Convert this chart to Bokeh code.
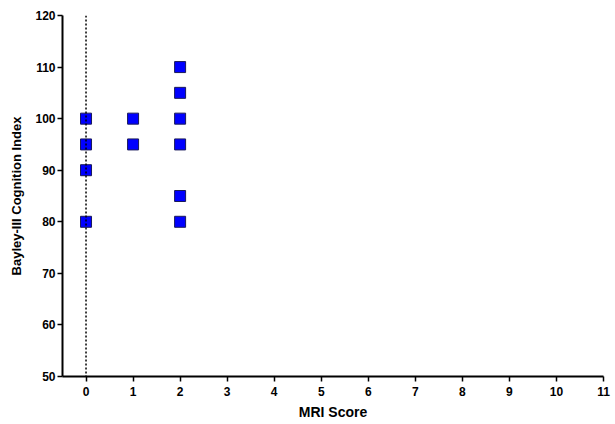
from bokeh.plotting import figure
from bokeh.models import ColumnDataSource, FixedTicker, Span
from bokeh.embed import file_html
from bokeh.resources import INLINE

# Data
mri_score = [0, 0, 0, 0, 1, 1, 2, 2, 2, 2, 2, 2]
bayley_cognition = [100, 95, 90, 80, 100, 95, 110, 105, 100, 95, 85, 80]
x_ticks = list(range(0, 12))
y_ticks = list(range(50, 121, 10))

src = ColumnDataSource(data=dict(x=mri_score, y=bayley_cognition))

p = figure(
    output_backend="svg", toolbar_location=None,
    frame_width=541, frame_height=361,
    x_range=(-0.5, 11), y_range=(50, 120),
    min_border_left=62, min_border_right=10, min_border_top=15, min_border_bottom=38,
)
p.outline_line_color = None
p.xgrid.grid_line_color = None
p.ygrid.grid_line_color = None
p.background_fill_color = "white"

zero_line = Span(location=0, dimension="height", line_color="black",
                 line_dash="2 2", line_width=1.5)
p.add_layout(zero_line)

p.scatter("x", "y", source=src, marker="square", size=11,
          fill_color="#0000FF", line_color="#1a1a5a", line_width=1)

for ax in (p.xaxis[0], p.yaxis[0]):
    ax.axis_line_width = 2
    ax.axis_line_color = "black"
    ax.major_tick_line_width = 1.5
    ax.major_tick_line_color = "black"
    ax.major_tick_out = 5
    ax.major_tick_in = 0
    ax.minor_tick_line_color = None
    ax.major_label_text_font = "Liberation Sans"
    ax.major_label_text_font_style = "bold"
    ax.major_label_text_font_size = "12px"
    ax.major_label_text_color = "black"
    ax.axis_label_text_font = "Liberation Sans"
    ax.axis_label_text_font_style = "bold"
    ax.axis_label_text_font_size = "13px"
    ax.axis_label_text_color = "black"

p.xaxis.ticker = FixedTicker(ticks=x_ticks)
p.yaxis.ticker = FixedTicker(ticks=y_ticks)
p.xaxis.axis_label = "MRI Score"
p.yaxis.axis_label = "Bayley-III Cognition Index"
p.xaxis.axis_label_text_font_size = "14px"
p.xaxis.major_label_standoff = 5
p.xaxis.axis_label_standoff = 5
p.yaxis.major_label_standoff = 2
p.yaxis.axis_label_standoff = 8

open("out.html", "w").write(file_html(p, INLINE))
